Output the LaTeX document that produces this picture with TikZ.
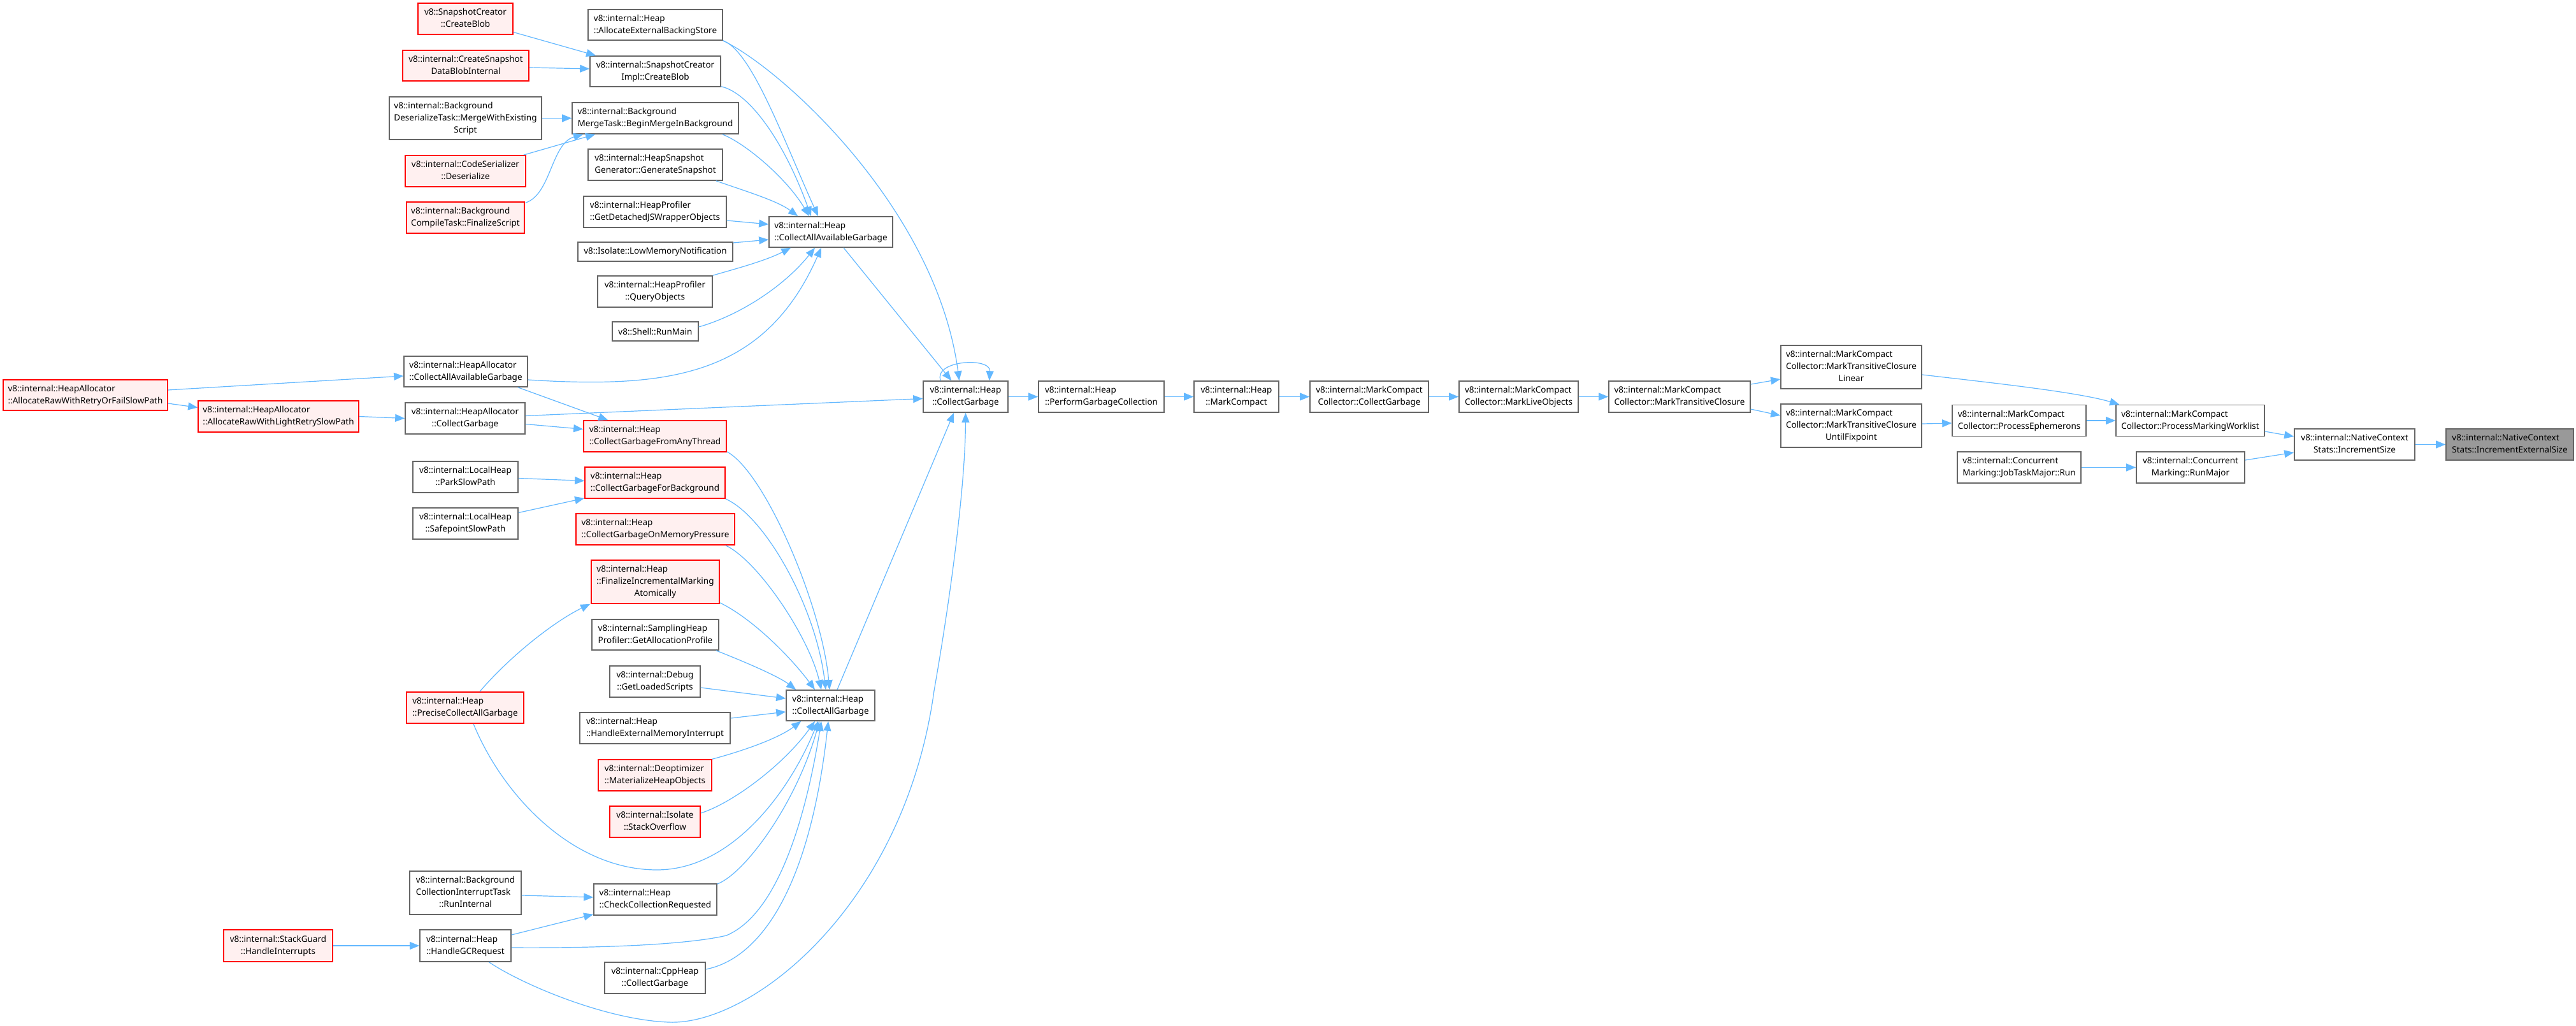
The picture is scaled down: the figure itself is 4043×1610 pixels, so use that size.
\documentclass[tikz,border=0pt]{standalone}
\usepackage{fontspec}
\setmainfont{Noto Sans}
\usetikzlibrary{arrows.meta,calc}
\definecolor{gborder}{HTML}{666666}
\definecolor{rfill}{HTML}{FFF0F0}
\definecolor{rootfill}{HTML}{999999}
\definecolor{edgec}{HTML}{63B8FF}
\newcommand{\nf}{\fontsize{6.75}{9.5}\selectfont}
\newcommand{\twol}[2]{\begin{tabular}{@{}l@{}}#1\\\multicolumn{1}{@{}c@{}}{#2}\end{tabular}}
\newcommand{\threel}[3]{\begin{tabular}{@{}l@{}}#1\\#2\\\multicolumn{1}{@{}c@{}}{#3}\end{tabular}}
\tikzset{
  box/.style={draw=gborder, line width=0.8pt, fill=white, inner sep=0pt, font=\nf, text=black},
  redbox/.style={box, draw=red},
  redbox/.append style={fill=rfill},
  rootbox/.style={box, fill=rootfill},
  sz/.style 2 args={minimum width=#1*0.5pt, minimum height=#2*0.5pt},
  e/.style={draw=edgec, line width=0.6pt, -{Triangle[length=7.5pt,width=6pt]}},
}
\begin{document}
\begin{tikzpicture}[x=0.5pt,y=-0.5pt]
\fill[white] (0,0) rectangle (4043,1610);
\useasboundingbox (0,0) rectangle (4043,1610);

% ---- left column ----
\node[redbox, sz={258}{48}] (allocretry) at (134,620) {\twol{v8::internal::HeapAllocator}{::AllocateRawWithRetryOrFailSlowPath}};
\node[redbox, sz={252}{49}] (lightretry) at (437,653.5) {\twol{v8::internal::HeapAllocator}{::AllocateRawWithLightRetrySlowPath}};
\node[redbox, sz={171}{50}] (stackguard) at (436.5,1484) {\twol{v8::internal::StackGuard}{::HandleInterrupts}};

\node[redbox, sz={149}{49}] (snapcreate) at (730.5,29.5) {\twol{v8::SnapshotCreator}{::CreateBlob}};
\node[redbox, sz={198}{48}] (createsnap) at (731,103) {\twol{v8::internal::CreateSnapshot}{DataBlobInternal}};
\node[box, sz={239}{67}] (bgdeser) at (730.5,185.5) {\threel{v8::internal::Background}{DeserializeTask::MergeWithExisting}{Script}};
\node[redbox, sz={189}{49}] (codeser) at (730.5,268.5) {\twol{v8::internal::CodeSerializer}{::Deserialize}};
\node[redbox, sz={185}{49}] (bgcompile) at (730.5,341.5) {\twol{v8::internal::Background}{CompileTask::FinalizeScript}};
\node[box, sz={194}{48}] (ha_caag) at (731,583) {\twol{v8::internal::HeapAllocator}{::CollectAllAvailableGarbage}};
\node[box, sz={188}{49}] (ha_cg) at (730,656.5) {\twol{v8::internal::HeapAllocator}{::CollectGarbage}};
\node[box, sz={165}{49}] (park) at (730.5,748.5) {\twol{v8::internal::LocalHeap}{::ParkSlowPath}};
\node[box, sz={165}{49}] (safepoint) at (730.5,821.5) {\twol{v8::internal::LocalHeap}{::SafepointSlowPath}};
\node[redbox, sz={184}{49}] (precise) at (730,1110.5) {\twol{v8::internal::Heap}{::PreciseCollectAllGarbage}};
\node[box, sz={175}{68}] (bgint) at (730.5,1401) {\threel{v8::internal::Background}{CollectionInterruptTask}{::RunInternal}};
\node[box, sz={143}{50}] (handlegc) at (730.5,1484) {\twol{v8::internal::Heap}{::HandleGCRequest}};

% ---- middle column ----
\node[box, sz={211}{48}] (allocext) at (1028.5,39) {\twol{v8::internal::Heap}{::AllocateExternalBackingStore}};
\node[box, sz={205}{48}] (snapimpl) at (1028.5,112) {\twol{v8::internal::SnapshotCreator}{Impl::CreateBlob}};
\node[box, sz={261}{49}] (bgmerge) at (1028.5,185.5) {\twol{v8::internal::Background}{MergeTask::BeginMergeInBackground}};
\node[box, sz={211}{49}] (heapsnap) at (1028.5,258.5) {\twol{v8::internal::HeapSnapshot}{Generator::GenerateSnapshot}};
\node[box, sz={224}{49}] (detached) at (1028,332.5) {\twol{v8::internal::HeapProfiler}{::GetDetachedJSWrapperObjects}};
\node[box, sz={243}{30}] (lowmem) at (1028.5,395) {v8::Isolate::LowMemoryNotification};
\node[box, sz={180}{49}] (query) at (1028,457.5) {\twol{v8::internal::HeapProfiler}{::QueryObjects}};
\node[box, sz={135}{30}] (runmain) at (1028.5,520) {v8::Shell::RunMain};
\node[redbox, sz={224}{49}] (cgfromany) at (1028,684.5) {\twol{v8::internal::Heap}{::CollectGarbageFromAnyThread}};
\node[redbox, sz={220}{49}] (cgbg) at (1028,757.5) {\twol{v8::internal::Heap}{::CollectGarbageForBackground}};
\node[redbox, sz={249}{49}] (cgmem) at (1028.5,830.5) {\twol{v8::internal::Heap}{::CollectGarbageOnMemoryPressure}};
\node[redbox, sz={201}{68}] (finalize) at (1028.5,913) {\threel{v8::internal::Heap}{::FinalizeIncrementalMarking}{Atomically}};
\node[box, sz={199}{48}] (sampling) at (1028.5,996) {\twol{v8::internal::SamplingHeap}{Profiler::GetAllocationProfile}};
\node[box, sz={142}{49}] (debug) at (1028,1069.5) {\twol{v8::internal::Debug}{::GetLoadedScripts}};
\node[box, sz={236}{49}] (extmem) at (1028,1142.5) {\twol{v8::internal::Heap}{::HandleExternalMemoryInterrupt}};
\node[redbox, sz={178}{49}] (deopt) at (1028,1216.5) {\twol{v8::internal::Deoptimizer}{::MaterializeHeapObjects}};
\node[redbox, sz={142}{49}] (stack) at (1028,1289.5) {\twol{v8::internal::Isolate}{::StackOverflow}};
\node[box, sz={193}{49}] (checkcoll) at (1028.5,1411.5) {\twol{v8::internal::Heap}{::CheckCollectionRequested}};
\node[box, sz={158}{49}] (cppheap) at (1028,1534.5) {\twol{v8::internal::CppHeap}{::CollectGarbage}};

% ---- heap column and chain ----
\node[box, sz={194}{48}] (heap_caag) at (1304,364) {\twol{v8::internal::Heap}{::CollectAllAvailableGarbage}};
\node[box, sz={139}{48}] (cag) at (1303.5,1107) {\twol{v8::internal::Heap}{::CollectAllGarbage}};
\node[box, sz={133}{49}] (cg) at (1515.5,622.5) {\twol{v8::internal::Heap}{::CollectGarbage}};
\node[box, sz={197}{49}] (perform) at (1728.5,622.5) {\twol{v8::internal::Heap}{::PerformGarbageCollection}};
\node[box, sz={133}{49}] (markcompact) at (1940.5,622.5) {\twol{v8::internal::Heap}{::MarkCompact}};
\node[box, sz={186}{49}] (mcc_cg) at (2149,622.5) {\twol{v8::internal::MarkCompact}{Collector::CollectGarbage}};
\node[box, sz={187}{49}] (mlo) at (2383.5,622.5) {\twol{v8::internal::MarkCompact}{Collector::MarkLiveObjects}};
\node[box, sz={222}{49}] (mtc) at (2636,622.5) {\twol{v8::internal::MarkCompact}{Collector::MarkTransitiveClosure}};
\node[box, sz={221}{68}] (mtcl) at (2905.5,576) {\threel{v8::internal::MarkCompact}{Collector::MarkTransitiveClosure}{Linear}};
\node[box, sz={221}{68}] (mtcu) at (2905.5,668) {\threel{v8::internal::MarkCompact}{Collector::MarkTransitiveClosure}{UntilFixpoint}};
\node[box, sz={210}{49}] (ephem) at (3169,660) {\twol{v8::internal::MarkCompact}{Collector::ProcessEphemerons}};
\node[box, sz={233}{49}] (worklist) at (3437.5,660) {\twol{v8::internal::MarkCompact}{Collector::ProcessMarkingWorklist}};
\node[box, sz={194}{49}] (jobtask) at (3169,733.5) {\twol{v8::internal::Concurrent}{Marking::JobTaskMajor::Run}};
\node[box, sz={170}{49}] (runmajor) at (3438,733.5) {\twol{v8::internal::Concurrent}{Marking::RunMajor}};
\node[box, sz={189}{49}] (incsize) at (3695.5,697.5) {\twol{v8::internal::NativeContext}{Stats::IncrementSize}};
\node[rootbox, sz={200}{49}] (incext) at (3939,697.5) {\twol{v8::internal::NativeContext}{Stats::IncrementExternalSize}};

% ---- edges ----
\draw[e] ($(allocretry.east)+(0,-8)$) -- ($(ha_caag.west)+(0,7)$);
\draw[e] ($(allocretry.east)+(0,13)$) -- ($(lightretry.west)+(0,-14)$);
\draw[e] (lightretry.east) -- (ha_cg.west);
\draw[e] (stackguard.east) -- (handlegc.west);
\draw[e] ($(ha_caag.east)+(0,13)$) .. controls (1050,610) and (1200,590) .. ($(heap_caag.south)+(-15,0)$);
\draw[e] ($(ha_caag.south east)+(-16,0)$) -- ($(cgfromany.north west)+(39,0)$);
\draw[e] ($(ha_cg.east)+(0,-4)$) -- ($(cg.west)+(0,3)$);
\draw[e] ($(ha_cg.east)+(0,9)$) -- ($(cgfromany.west)+(0,-11)$);
\draw[e] ($(park.east)+(0,2)$) -- ($(cgbg.west)+(0,-3)$);
\draw[e] ($(safepoint.east)+(0,-17)$) -- ($(cgbg.south west)+(0,-1)$);
\draw[e] ($(snapcreate.east)+(0,21)$) -- ($(snapimpl.north west)+(10,0)$);
\draw[e] ($(createsnap.east)+(0,3)$) -- ($(snapimpl.west)+(0,-4)$);
\draw[e] (bgdeser.east) -- (bgmerge.west);
\draw[e] ($(codeser.north east)+(-4,0)$) -- ($(bgmerge.south west)+(37,0)$);
\draw[e] ($(bgcompile.north east)+(1,2)$) .. controls (865,305) and (865,225) .. ($(bgmerge.south west)+(18,0)$);
\draw[e] (allocext.south east) .. controls (1180,80) and (1230,220) .. ($(heap_caag.north)+(-20,0)$);
\draw[e] (allocext.south east) .. controls (1230,110) and (1470,330) .. ($(cg.north)+(-10,0)$);
\draw[e] ($(snapimpl.south east)+(0,-1)$) .. controls (1175,145) and (1230,220) .. ($(heap_caag.north)+(-31,0)$);
\draw[e] ($(bgmerge.south east)+(-26,0)$) .. controls (1170,225) and (1235,280) .. ($(heap_caag.north)+(-34,0)$);
\draw[e] ($(heapsnap.south east)+(-11,0)$) .. controls (1170,300) and (1220,315) .. ($(heap_caag.north west)+(46,0)$);
\draw[e] ($(detached.east)+(0,13.5)$) -- ($(heap_caag.west)+(0,-12)$);
\draw[e] ($(lowmem.east)+(0,-14)$) -- ($(heap_caag.west)+(0,12)$);
\draw[e] (query.north east) .. controls (1150,423) and (1200,410) .. ($(heap_caag.south west)+(35,0)$);
\draw[e] ($(runmain.east)+(0,-7)$) .. controls (1160,495) and (1230,450) .. ($(heap_caag.south)+(-25,0)$);
\draw[e] ($(heap_caag.south)+(20,0)$) -- ($(cg.north west)+(45,0)$);
\draw[e] ($(cg.north west)+(28,0)$) .. controls (1465,565) and (1555,560) .. ($(cg.north east)+(-30,0)$);
\draw[e] (cg.east) -- (perform.west);
\draw[e] (perform.east) -- (markcompact.west);
\draw[e] (markcompact.east) -- (mcc_cg.west);
\draw[e] (mcc_cg.east) -- (mlo.west);
\draw[e] (mlo.east) -- (mtc.west);
\draw[e] ($(mtc.east)+(0,-19.5)$) -- ($(mtcl.west)+(0,19)$);
\draw[e] ($(mtc.east)+(0,19.5)$) -- ($(mtcu.west)+(0,-16)$);
\draw[e] ($(mtcl.east)+(0,12)$) .. controls (3120,600) and (3260,615) .. ($(worklist.north west)+(6,0)$);
\draw[e] ($(mtcu.east)+(0,-3)$) -- ($(ephem.west)+(0,4)$);
\draw[e] (ephem.east) -- (worklist.west);
\draw[e] ($(worklist.east)+(0,17)$) -- ($(incsize.west)+(0,-12.5)$);
\draw[e] (jobtask.east) -- (runmajor.west);
\draw[e] ($(runmajor.east)+(0,-11.5)$) -- ($(incsize.west)+(0,12.5)$);
\draw[e] (incsize.east) -- (incext.west);
% into CollectAllGarbage
\draw[e] ($(cgfromany.south east)+(0,-1)$) .. controls (1200,740) and (1290,950) .. ($(cag.north)+(-1.5,0)$);
\draw[e] (cgbg.south east) .. controls (1200,810) and (1280,950) .. ($(cag.north)+(-7.5,0)$);
\draw[e] ($(cgmem.south east)+(-15,0)$) .. controls (1190,880) and (1270,1000) .. ($(cag.north)+(-14.5,0)$);
\draw[e] ($(finalize.south east)+(0,-2)$) .. controls (1180,970) and (1240,1030) .. ($(cag.north)+(-24.5,0)$);
\draw[e] ($(sampling.south east)+(-5,0)$) .. controls (1160,1035) and (1220,1060) .. ($(cag.north west)+(16,0)$);
\draw[e] ($(debug.east)+(0,9.5)$) -- ($(cag.west)+(0,-11)$);
\draw[e] ($(extmem.east)+(0,-15.5)$) -- ($(cag.west)+(0,10)$);
\draw[e] (deopt.north east) .. controls (1160,1180) and (1220,1160) .. ($(cag.south west)+(24,0)$);
\draw[e] ($(stack.east)+(0,-13.5)$) .. controls (1150,1260) and (1230,1200) .. ($(cag.south)+(-24.5,0)$);
\draw[e] ($(precise.north)+(23,0)$) .. controls (800,1030) and (870,975) .. ($(finalize.south west)+(-1,0)$);
\draw[e] ($(precise.south)+(13,0)$) .. controls (790,1250) and (900,1365) .. (1031,1365) .. controls (1150,1365) and (1240,1240) .. ($(cag.south)+(-19.5,0)$);
\draw[e] ($(bgint.east)+(0,4)$) -- ($(checkcoll.west)+(0,-3.5)$);
\draw[e] ($(handlegc.east)+(0,-17)$) -- ($(checkcoll.south west)+(0,-2)$);
\draw[e] ($(handlegc.east)+(0,3)$) .. controls (950,1488) and (1080,1482) .. (1140,1468) .. controls (1230,1430) and (1270,1250) .. ($(cag.south)+(-14.5,0)$);
\draw[e] ($(checkcoll.north east)+(0,1)$) .. controls (1170,1370) and (1250,1260) .. ($(cag.south)+(-17.5,0)$);
\draw[e] ($(cppheap.east)+(0,-13.5)$) .. controls (1190,1505) and (1270,1400) .. ($(cag.south)+(-3.5,0)$);
\draw[e] ($(cag.north)+(10.5,0)$) -- ($(cg.south)+(-18.5,0)$);
\draw[e] ($(handlegc.south)+(37,0)$) .. controls (820,1545) and (950,1600) .. (1049,1604) .. controls (1180,1610) and (1420,1420) .. (1466,1084) .. controls (1493,930) and (1515,760) .. (cg.south);
\end{tikzpicture}
\end{document}
